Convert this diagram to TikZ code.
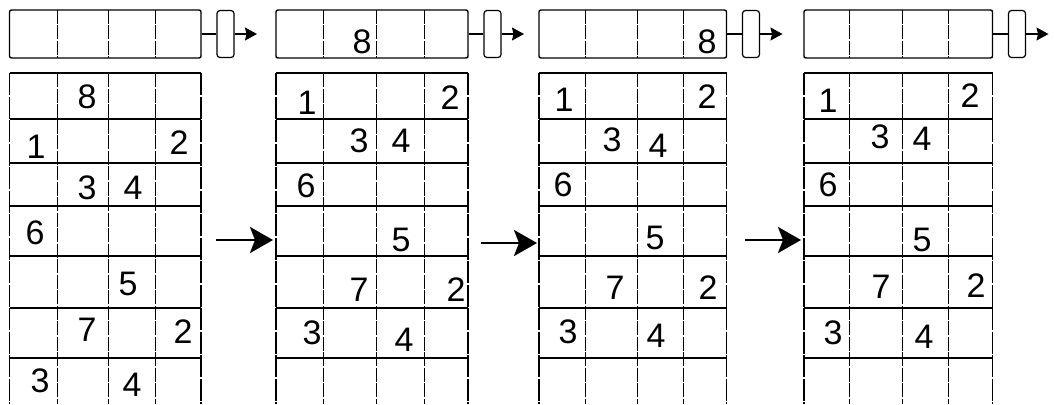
\documentclass[tikz,border=0pt]{standalone}
\usepackage{fontspec}
\setmainfont{Liberation Sans}
\usetikzlibrary{arrows.meta}
\tikzset{
 hline/.style={line width=1.8pt},
 vline/.style={line width=0.9pt, dash pattern=on 14pt off 1.5pt},
 oline/.style={line width=1.3pt, dash pattern=on 22pt off 1.5pt},
 bar/.style={draw, line width=1.4pt, rounded corners=2pt, minimum height=48pt, inner sep=0pt},
 tabbox/.style={draw, line width=1.2pt, rounded corners=3pt, minimum width=17pt, minimum height=47pt, inner sep=0pt},
 num/.style={font=\fontsize{34}{36}\selectfont, inner sep=0pt},
 link/.style={line width=1.2pt},
 smallarrow/.style={line width=1.2pt, -{Stealth[length=12pt,width=13pt,inset=1.5pt]}},
 bigarrow/.style={line width=2.8pt, -{Stealth[length=23pt,width=26pt,inset=5pt]}}
}
\newcommand\mypanel[6]{%
 \node[bar, minimum width={#3-#2}] (#1bar) at ({(#2+#3)/2},34) {};
 \foreach \d in {#4,#5,#6} \draw[vline] (\d,10) -- (\d,58);
 \node[tabbox] (#1tab) at ({#3+24.5},34) {};
 \draw[link] (#1bar) -- (#1tab);
 \coordinate (#1out) at ({#3+56},34);
 \draw[smallarrow] (#1tab) -- (#1out);
 \foreach \y in {73,119,163,206,256,308,358} \draw[hline] (#2,\y) -- (#3,\y);
 \foreach \x in {#4,#5,#6} \draw[vline] (\x,73) -- (\x,404);
 \foreach \x in {#2,#3} \draw[oline] (\x,73) -- (\x,404);
}
\begin{document}
\begin{tikzpicture}[x=1pt,y=-1pt]
\useasboundingbox (0,0) rectangle (1054,404);
\mypanel{a}{9.5}{201}{57}{108}{155}
\mypanel{b}{276}{468}{323.5}{376}{424}
\mypanel{c}{539}{726.5}{585}{637}{683}
\mypanel{d}{804}{992.5}{849}{902}{948}
% top bar numbers
\node[num] (b8) at (362,42) {8};
\node[num] (c8) at (707,42) {8};
% panel 1
\node[num] (a1) at (87,97) {8};
\node[num] (a2) at (36,147) {1};
\node[num] (a3) at (179,143) {2};
\node[num] (a4) at (87,188) {3};
\node[num] (a5) at (133,188) {4};
\node[num] (a6) at (35,233) {6};
\node[num] (a7) at (128,284) {5};
\node[num] (a8) at (87,330) {7};
\node[num] (a9) at (183,332) {2};
\node[num] (a10) at (40,381) {3};
\node[num] (a11) at (132,385) {4};
% panel 2
\node[num] (b1) at (307,103) {1};
\node[num] (b2) at (450,98) {2};
\node[num] (b3) at (359,141) {3};
\node[num] (b4) at (401,141) {4};
\node[num] (b5) at (306,186) {6};
\node[num] (b6) at (401,240) {5};
\node[num] (b7) at (359,290) {7};
\node[num] (b9) at (456,290) {2};
\node[num] (b10) at (312,333) {3};
\node[num] (b11) at (404,340) {4};
% panel 3
\node[num] (c1) at (564,100) {1};
\node[num] (c2) at (707,97) {2};
\node[num] (c3) at (612,140) {3};
\node[num] (c4) at (658,146) {4};
\node[num] (c5) at (563,185) {6};
\node[num] (c6) at (655,238) {5};
\node[num] (c7) at (615,288) {7};
\node[num] (c9) at (708,288) {2};
\node[num] (c10) at (568,332) {3};
\node[num] (c11) at (656,336) {4};
% panel 4
\node[num] (d1) at (828,101) {1};
\node[num] (d2) at (970,96) {2};
\node[num] (d3) at (880,137) {3};
\node[num] (d4) at (922,139) {4};
\node[num] (d5) at (828,185) {6};
\node[num] (d6) at (922,240) {5};
\node[num] (d7) at (881,287) {7};
\node[num] (d9) at (976,286) {2};
\node[num] (d10) at (833,333) {3};
\node[num] (d11) at (924,337) {4};
% big arrows
\coordinate (s1) at (216,240);
\coordinate (t1) at (273,240);
\coordinate (s2) at (481,243);
\coordinate (t2) at (537,243);
\coordinate (s3) at (745,240);
\coordinate (t3) at (801,240);
\draw[bigarrow] (s1) -- (t1);
\draw[bigarrow] (s2) -- (t2);
\draw[bigarrow] (s3) -- (t3);
\end{tikzpicture}
\end{document}
